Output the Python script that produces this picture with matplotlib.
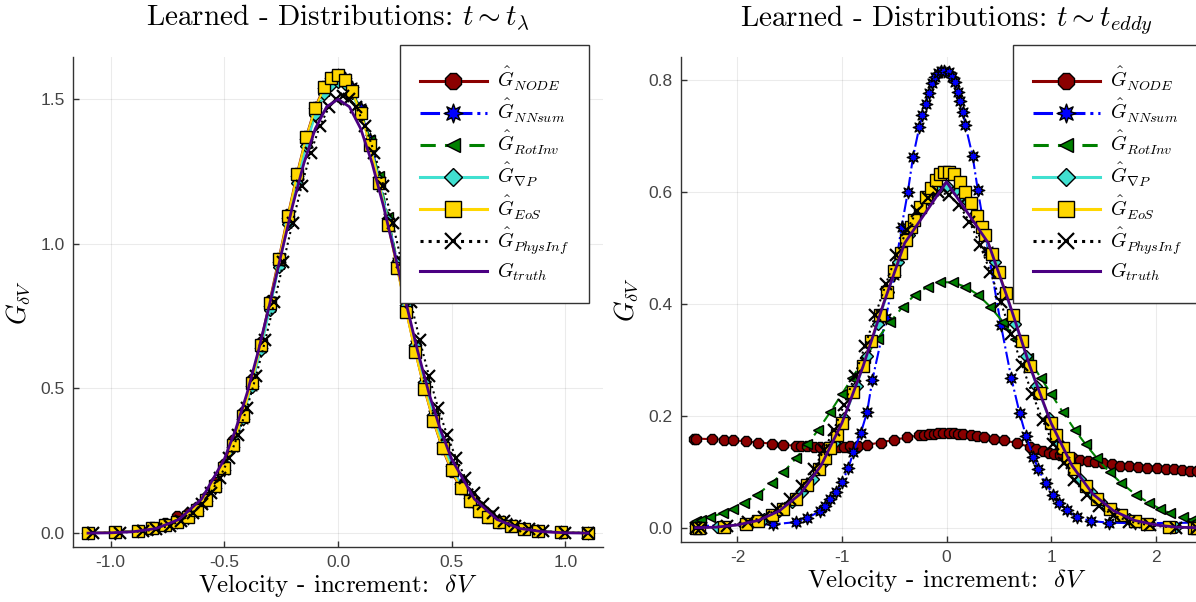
import matplotlib; matplotlib.use('Agg')
import matplotlib.pyplot as plt
from matplotlib.path import Path
from matplotlib.ticker import FormatStrFormatter, FixedLocator
import numpy as np

plt.rcParams['font.family']=['Liberation Sans','DejaVu Sans']
plt.rcParams['mathtext.fontset']='cm'
plt.rcParams['axes.unicode_minus']=False

# ---- left panel: t ~ t_lambda ----
XL=[-1.10,-0.98,-0.88,-0.82,-0.76,-0.71,-0.66,-0.62,-0.58,-0.54,-0.50,-0.46,-0.42,-0.38,-0.34,-0.30,
    -0.26,-0.22,-0.18,-0.14,-0.10,-0.06,-0.03,0.00,0.03,0.06,0.10,0.14,0.18,0.22,0.26,0.30,0.34,0.38,
    0.42,0.46,0.50,0.54,0.58,0.62,0.66,0.71,0.76,0.82,0.88,0.98,1.10]
NODE_L=[0.000,0.004,0.009,0.020,0.034,0.058,0.070,0.092,0.126,0.176,0.240,0.322,0.420,0.533,0.662,0.805,
        0.952,1.102,1.245,1.372,1.474,1.545,1.575,1.584,1.568,1.531,1.455,1.347,1.214,1.070,0.918,0.767,
        0.626,0.497,0.385,0.290,0.213,0.152,0.106,0.074,0.051,0.035,0.023,0.013,0.006,0.002,0.000]
NNSUM_L=[0.000,0.002,0.006,0.014,0.025,0.037,0.053,0.077,0.110,0.157,0.219,0.298,0.395,0.510,0.641,0.785,
         0.936,1.088,1.233,1.363,1.468,1.540,1.573,1.584,1.573,1.541,1.468,1.362,1.232,1.088,0.938,0.789,
         0.649,0.521,0.409,0.312,0.233,0.170,0.122,0.087,0.062,0.045,0.031,0.019,0.009,0.003,0.000]
ROTINV_L=[0.000,0.003,0.008,0.017,0.029,0.043,0.060,0.085,0.119,0.167,0.230,0.308,0.404,0.516,0.643,0.783,
          0.930,1.079,1.221,1.349,1.454,1.528,1.562,1.574,1.564,1.533,1.462,1.360,1.233,1.092,0.943,0.794,
          0.653,0.524,0.410,0.312,0.231,0.167,0.118,0.083,0.058,0.041,0.028,0.016,0.007,0.003,0.000]
GRADP_L=[0.000,0.003,0.007,0.015,0.026,0.039,0.055,0.079,0.112,0.159,0.221,0.299,0.394,0.506,0.633,0.773,
         0.921,1.070,1.212,1.340,1.444,1.517,1.550,1.561,1.552,1.521,1.450,1.348,1.222,1.082,0.935,0.788,
         0.649,0.521,0.408,0.311,0.231,0.167,0.118,0.083,0.058,0.041,0.028,0.016,0.007,0.003,0.000]
EOS_L=[0.000,0.003,0.007,0.016,0.027,0.040,0.056,0.080,0.114,0.162,0.226,0.306,0.404,0.520,0.652,0.796,
       0.946,1.097,1.240,1.368,1.470,1.541,1.572,1.583,1.566,1.530,1.452,1.343,1.210,1.066,0.915,0.765,
       0.625,0.498,0.387,0.293,0.217,0.156,0.110,0.078,0.055,0.039,0.026,0.015,0.007,0.003,0.000]
XP_L=[-1.08,-0.96,-0.86,-0.80,-0.74,-0.69,-0.64,-0.60,-0.56,-0.52,-0.48,-0.44,-0.40,-0.36,-0.32,-0.28,
      -0.24,-0.20,-0.16,-0.12,-0.08,-0.04,-0.01,0.02,0.05,0.08,0.12,0.16,0.20,0.24,0.28,0.32,0.36,0.40,
      0.44,0.48,0.52,0.56,0.60,0.64,0.68,0.73,0.78,0.84,0.90,1.00,1.10]
PHYS_L=[0.000,0.002,0.006,0.013,0.026,0.043,0.070,0.100,0.140,0.192,0.258,0.339,0.434,0.544,0.667,0.799,
        0.937,1.073,1.201,1.315,1.407,1.472,1.500,1.510,1.500,1.472,1.407,1.315,1.201,1.073,0.937,0.799,
        0.667,0.544,0.434,0.339,0.258,0.192,0.140,0.100,0.070,0.043,0.026,0.013,0.006,0.002,0.000]
XT_L=[-1.10,-1.00,-0.90,-0.80,-0.70,-0.60,-0.50,-0.45,-0.40,-0.35,-0.30,-0.25,-0.20,-0.15,-0.10,-0.05,
      0.00,0.05,0.10,0.15,0.20,0.25,0.30,0.35,0.40,0.45,0.50,0.60,0.70,0.80,0.90,1.00,1.10]
TRUTH_L=[0.000,0.001,0.005,0.016,0.047,0.118,0.256,0.359,0.484,0.631,0.794,0.964,1.131,1.279,1.398,1.474,
         1.500,1.474,1.398,1.279,1.131,0.964,0.794,0.631,0.484,0.359,0.256,0.118,0.047,0.016,0.005,0.001,0.000]

# ---- right panel: t ~ t_eddy ----
XO_R=[-2.42,-2.40,-2.24,-2.13,-2.04,-1.92,-1.80,-1.67,-1.56,-1.44,-1.39,-1.33,-1.27,-1.21,-1.14,-1.04,
      -0.98,-0.92,-0.85,-0.76,-0.63,-0.50,-0.38,-0.26,-0.22,-0.17,-0.12,-0.08,-0.03,0.02,0.07,0.11,0.16,
      0.23,0.29,0.36,0.45,0.55,0.67,0.80,0.86,0.92,0.98,1.03,1.09,1.15,1.21,1.28,1.35,1.42,1.50,1.58,
      1.66,1.75,1.83,1.92,2.01,2.10,2.18,2.25,2.33,2.40]
NODE_R=[0.160,0.160,0.159,0.158,0.157,0.155,0.153,0.151,0.149,0.147,0.146,0.146,0.145,0.145,0.145,0.145,
        0.145,0.146,0.147,0.149,0.153,0.158,0.162,0.166,0.167,0.168,0.169,0.170,0.170,0.170,0.170,0.169,
        0.168,0.167,0.165,0.163,0.160,0.157,0.152,0.145,0.142,0.138,0.135,0.132,0.130,0.127,0.125,0.122,
        0.120,0.118,0.116,0.114,0.112,0.111,0.109,0.108,0.107,0.106,0.105,0.104,0.103,0.103]
XN_R=[-2.40,-1.66,-1.44,-1.33,-1.21,-1.16,-1.11,-1.06,-1.00,-0.94,-0.89,-0.82,-0.76,-0.71,-0.58,-0.50,
      -0.43,-0.37,-0.32,-0.26,-0.23,-0.20,-0.17,-0.14,-0.11,-0.08,-0.05,-0.02,0.02,0.05,0.08,0.11,0.13,
      0.16,0.18,0.25,0.30,0.40,0.52,0.62,0.70,0.76,0.83,0.88,0.95,1.02,1.08,1.15,1.25,1.38,1.55,1.80,2.40]
NNSUM_R=[0.004,0.007,0.011,0.019,0.030,0.039,0.052,0.064,0.082,0.107,0.136,0.170,0.207,0.264,0.375,0.452,
         0.538,0.600,0.663,0.716,0.737,0.758,0.776,0.794,0.805,0.813,0.816,0.816,0.814,0.806,0.796,0.779,
         0.762,0.742,0.720,0.664,0.603,0.494,0.363,0.268,0.205,0.165,0.128,0.105,0.080,0.060,0.045,0.032,
         0.020,0.013,0.010,0.009,0.010]
XR_R=[-2.40,-2.35,-2.26,-2.14,-2.04,-1.94,-1.81,-1.67,-1.56,-1.44,-1.33,-1.23,-1.11,-1.00,-0.90,-0.78,
      -0.66,-0.54,-0.42,-0.30,-0.18,-0.06,0.06,0.18,0.30,0.42,0.54,0.66,0.78,0.90,1.00,1.11,1.23,1.33,
      1.44,1.56,1.67,1.81,1.94,2.04,2.14,2.26,2.35,2.40]
ROTINV_R=[0.013,0.015,0.020,0.027,0.035,0.045,0.060,0.081,0.100,0.125,0.150,0.175,0.208,0.240,0.269,0.304,
          0.338,0.368,0.395,0.417,0.431,0.439,0.439,0.431,0.417,0.395,0.368,0.338,0.304,0.269,0.240,0.208,
          0.175,0.150,0.125,0.100,0.081,0.060,0.045,0.035,0.027,0.020,0.015,0.013]
XG_R=[-2.40,-2.20,-1.95,-1.75,-1.60,-1.48,-1.38,-1.28,-1.18,-1.08,-0.98,-0.86,-0.76,-0.66,-0.56,-0.46,
      -0.36,-0.27,-0.18,-0.09,0.00,0.09,0.18,0.27,0.36,0.46,0.56,0.66,0.76,0.86,0.98,1.08,1.18,1.28,
      1.38,1.48,1.60,1.75,1.95,2.20,2.40]
GRADP_R=[0.001,0.002,0.007,0.016,0.030,0.046,0.064,0.088,0.117,0.153,0.196,0.254,0.308,0.364,0.421,0.475,
         0.523,0.560,0.587,0.604,0.610,0.604,0.587,0.560,0.523,0.475,0.421,0.364,0.308,0.254,0.196,0.153,
         0.117,0.088,0.064,0.046,0.030,0.016,0.007,0.002,0.001]
XE_R=[-2.40,-2.37,-2.13,-1.92,-1.80,-1.67,-1.56,-1.44,-1.33,-1.22,-1.16,-1.11,-1.05,-1.00,-0.89,-0.80,
      -0.72,-0.64,-0.57,-0.50,-0.44,-0.39,-0.34,-0.31,-0.25,-0.20,-0.15,-0.10,-0.06,-0.02,0.02,0.07,0.13,
      0.18,0.23,0.29,0.34,0.37,0.44,0.50,0.57,0.64,0.72,0.80,0.89,1.00,1.05,1.11,1.16,1.22,1.33,1.44,
      1.56,1.67,1.80,1.92,2.13,2.37,2.40]
EOS_R=[0.001,0.001,0.003,0.008,0.013,0.023,0.035,0.053,0.077,0.106,0.125,0.143,0.167,0.188,0.243,0.290,
       0.335,0.381,0.421,0.459,0.491,0.515,0.537,0.551,0.574,0.592,0.608,0.622,0.632,0.636,0.636,0.632,
       0.618,0.600,0.581,0.558,0.537,0.524,0.490,0.458,0.420,0.380,0.334,0.289,0.242,0.188,0.167,0.143,
       0.125,0.106,0.076,0.053,0.035,0.023,0.013,0.008,0.003,0.001,0.001]
XP_R=[-2.40,-2.35,-2.10,-1.90,-1.75,-1.62,-1.50,-1.38,-1.27,-1.17,-1.08,-0.98,-0.88,-0.78,-0.68,-0.58,
      -0.48,-0.38,-0.28,-0.18,-0.08,0.02,0.12,0.22,0.32,0.42,0.52,0.62,0.72,0.82,0.92,1.02,1.12,1.22,
      1.34,1.46,1.60,1.75,1.95,2.20,2.40]
PHYS_R=[0.001,0.001,0.004,0.011,0.020,0.034,0.052,0.076,0.106,0.140,0.175,0.220,0.271,0.325,0.381,0.436,
        0.487,0.532,0.567,0.590,0.600,0.595,0.577,0.547,0.506,0.457,0.403,0.347,0.292,0.240,0.193,0.151,
        0.116,0.086,0.059,0.039,0.023,0.012,0.005,0.001,0.000]
XT_R=[-2.4,-2.2,-2.0,-1.8,-1.6,-1.4,-1.2,-1.0,-0.8,-0.6,-0.4,0.0,0.4,0.6,0.8,1.0,1.2,1.4,1.6,1.8,2.0,2.2,2.4]
TRUTH_R=[0.001,0.002,0.006,0.014,0.031,0.061,0.112,0.188,0.288,0.402,0.509,0.618,0.509,0.402,0.288,0.188,
         0.112,0.061,0.031,0.014,0.006,0.002,0.001]

LABELS=[r'$\hat{G}_{NODE}$',r'$\hat{G}_{NNsum}$',r'$\hat{G}_{RotInv}$',r'$\hat{G}_{\nabla P}$',
        r'$\hat{G}_{EoS}$',r'$\hat{G}_{PhysInf}$',r'$G_{truth}$']

# 8-point star marker
_a=np.linspace(0,2*np.pi,17)[:-1]+np.pi/2
_r=np.tile([1.0,0.5],8)
_v=np.column_stack([_r*np.cos(_a),_r*np.sin(_a)])
STAR8=Path(np.vstack([_v,_v[:1]]),closed=True)

# color, linestyle, marker, markersize, marker face
STY=[('#8B0000','-','8',8.0,'#8B0000'),
     ('#0000FF','-.',STAR8,9.0,'#0000FF'),
     ('#008000',(0,(5,3)),'<',7.0,'#008000'),
     ('#40E0D0','-','D',6.0,'#40E0D0'),
     ('#FFD700','-','s',8.0,'#FFD700'),
     ('black',':','x',8.0,'black')]
C_TRUTH='#4B0082'; C_AX='#333333'; C_TXT='#444444'
W,H=1196,602

def panel(ax,series,truth,title,xlim,ylim,xt,yt,xfmt,legx):
    for (x,y),(c,ls,m,ms,fc) in zip(series,STY):
        ax.plot(x,y,color=c,ls=ls,lw=1.5,marker=m,ms=ms,mfc=fc,mec='black',
                mew=1.6 if m=='x' else 1.0)
    ax.plot(truth[0],truth[1],color=C_TRUTH,lw=2.0)
    ax.set_xlim(*xlim); ax.set_ylim(*ylim)
    ax.xaxis.set_major_locator(FixedLocator(xt)); ax.yaxis.set_major_locator(FixedLocator(yt))
    ax.xaxis.set_major_formatter(FormatStrFormatter(xfmt)); ax.yaxis.set_major_formatter(FormatStrFormatter('%.1f'))
    ax.tick_params(direction='in',length=4,width=1,color=C_AX,labelsize=12.5,labelcolor=C_TXT,pad=6)
    ax.grid(True,color='black',alpha=0.08,lw=0.8); ax.set_axisbelow(True)
    for sp in ['top','right']: ax.spines[sp].set_visible(False)
    for sp in ['left','bottom']: ax.spines[sp].set_color(C_AX); ax.spines[sp].set_linewidth(1.0)
    ax.set_title(title,fontsize=21,fontfamily='cmr10',pad=22)
    ax.set_xlabel(r'Velocity - increment:  $\delta V$',fontsize=18,fontfamily='cmr10',labelpad=1)
    ax.set_ylabel(r'$G_{\delta V}$',fontsize=19,labelpad=6)
    leg=ax.legend(LABELS,loc='upper left',bbox_to_anchor=(legx/W,1-45/H),bbox_transform=ax.figure.transFigure,
                  fontsize=14.5,frameon=True,fancybox=False,edgecolor=C_AX,framealpha=1,borderaxespad=0,
                  borderpad=1.0,labelspacing=0.2,handlelength=3.3,handletextpad=0.5,markerscale=1.5)
    leg.get_frame().set_linewidth(1.0)
    for h in leg.legend_handles: h.set_linewidth(2.2)

fig=plt.figure(figsize=(W/100,H/100),dpi=100)
axL=fig.add_axes([73/W,1-547/H,530/W,490/H])
axR=fig.add_axes([681/W,1-542/H,531/W,485/H])

panel(axL,[(XL,NODE_L),(XL,NNSUM_L),(XL,ROTINV_L),(XL,GRADP_L),(XL,EOS_L),(XP_L,PHYS_L)],(XT_L,TRUTH_L),
      r'Learned - Distributions: $t \sim t_\lambda$',(-1.166,1.166),(-0.048,1.646),
      [-1.0,-0.5,0.0,0.5,1.0],[0.0,0.5,1.0,1.5],'%.1f',400)
panel(axR,[(XO_R,NODE_R),(XN_R,NNSUM_R),(XR_R,ROTINV_R),(XG_R,GRADP_R),(XE_R,EOS_R),(XP_R,PHYS_R)],(XT_R,TRUTH_R),
      r'Learned - Distributions: $t \sim t_{eddy}$',(-2.54,2.54),(-0.0245,0.841),
      [-2,-1,0,1,2],[0.0,0.2,0.4,0.6,0.8],'%d',1013)

fig.savefig('out.png',dpi=100)
